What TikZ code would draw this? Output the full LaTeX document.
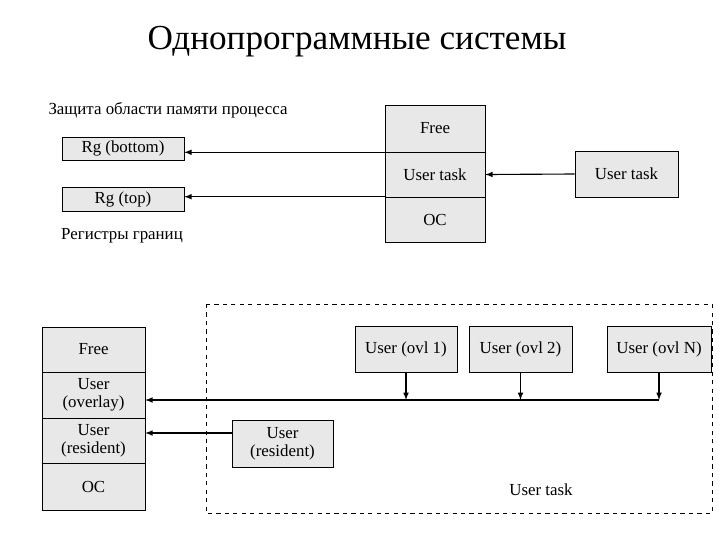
\documentclass[tikz,border=0pt]{standalone}
\usepackage{fontspec}
\setmainfont{Liberation Serif}
\usetikzlibrary{arrows}

\tikzset{
	blk/.style={draw, thin, fill=gray!18, inner sep=0pt, align=center, font=\fontsize{12}{13}\selectfont},
	lnk/.style={thick, -latex}
}

\begin{document}
\begin{tikzpicture}[x=0.025cm, y=-0.025cm]
\useasboundingbox (0,0) rectangle (720,540);

\node at (357,42) {\fontsize{25}{28}\selectfont Однопрограммные системы};
\node at (168,110) {\fontsize{12}{13}\selectfont Защита области памяти процесса};
\node at (122,236) {\fontsize{12}{13}\selectfont Регистры границ};

% upper memory map
\node[blk, minimum width=100*0.025cm, minimum height=47*0.025cm] (free) at (435,128.5) {Free};
\node[blk, minimum width=100*0.025cm, minimum height=45*0.025cm] (task) at (435,174.5) {User task};
\node[blk, minimum width=100*0.025cm, minimum height=45*0.025cm] (os) at (435,219.5) {OC};
\node[blk, minimum width=122*0.025cm, minimum height=23*0.025cm] (rgb) at (123,148.5) {Rg (bottom)};
\node[blk, minimum width=122*0.025cm, minimum height=24*0.025cm] (rgt) at (123,199) {Rg (top)};
\node[blk, minimum width=103*0.025cm, minimum height=46*0.025cm] (utask) at (626.5,174) {User task};

\draw[lnk] (utask.west) -- (task.east);
\draw[lnk] (free.south west) -- (rgb.east |- free.south west);
\draw[lnk] (os.north west) -- (rgt.east |- os.north west);

% lower memory map
\draw[thin, dashed] (206,304) rectangle (712,513);
\node[blk, minimum width=103*0.025cm, minimum height=45*0.025cm] (lfree) at (93.5,349.5) {Free};
\node[blk, minimum width=103*0.025cm, minimum height=46*0.025cm] (lovl) at (93.5,395) {User\\(overlay)};
\node[blk, minimum width=103*0.025cm, minimum height=45*0.025cm] (lres) at (93.5,440.5) {User\\(resident)};
\node[blk, minimum width=103*0.025cm, minimum height=47*0.025cm] (los) at (93.5,486.5) {OC};

\node[blk, minimum width=102*0.025cm, minimum height=46*0.025cm] (ovla) at (406,349) {User (ovl 1)};
\node[blk, minimum width=103*0.025cm, minimum height=46*0.025cm] (ovlb) at (520.5,349) {User (ovl 2)};
\node[blk, minimum width=104*0.025cm, minimum height=46*0.025cm] (ovln) at (659,349) {User (ovl N)};
\node[blk, minimum width=101*0.025cm, minimum height=47*0.025cm] (res) at (282.5,443.5) {User\\(resident)};
\node at (541,490) {\fontsize{12}{13}\selectfont User task};

\coordinate (busa) at (ovla.south |- 0,400);
\coordinate (busb) at (ovlb.south |- 0,400);
\coordinate (busn) at (ovln.south |- 0,400);
\draw[lnk] (ovla.south) -- (busa);
\draw[lnk] (ovlb.south) -- (busb);
\draw[lnk] (ovln.south) -- (busn);
\draw[lnk] (busn) -- (lovl.east |- busn);
\draw[lnk] (res.west |- 0,433) -- (lres.east |- 0,433);
\end{tikzpicture}
\end{document}
